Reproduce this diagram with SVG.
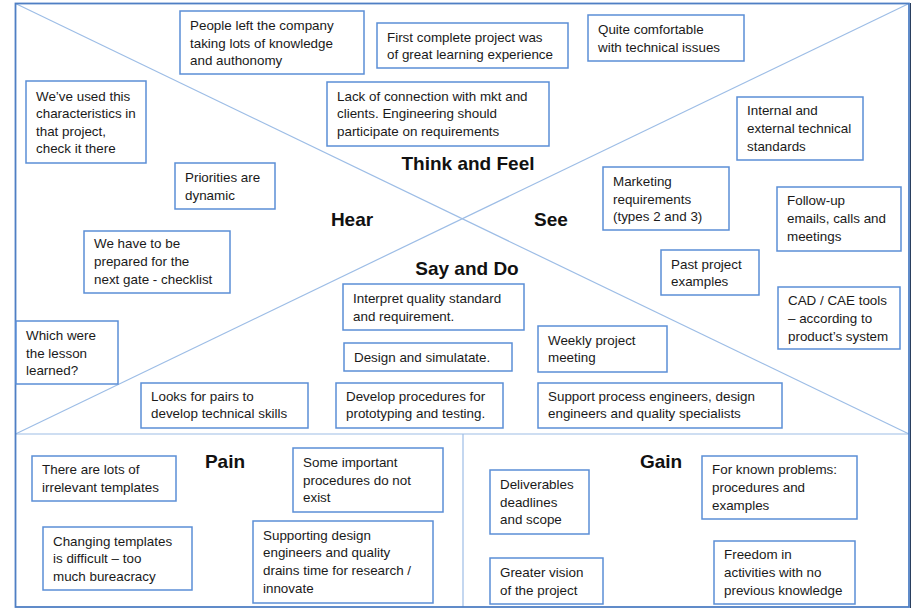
<svg xmlns="http://www.w3.org/2000/svg" width="912" height="608" viewBox="0 0 912 608">
<style>
.box{fill:#ffffff;stroke:#5b8ed6;stroke-width:1.5}
.t{font-family:"Liberation Sans",Arial,sans-serif;font-size:13.4px;fill:#1a1a1a}
.h{font-family:"Liberation Sans",Arial,sans-serif;font-size:19px;font-weight:bold;fill:#111111;text-anchor:middle}
.ln{stroke:#9dbde6;stroke-width:1.2;fill:none}
</style>
<rect x="0" y="0" width="912" height="608" fill="#ffffff"/>
<g id="connectors">
<line class="ln" x1="15.5" y1="3.5" x2="909" y2="434"/>
<line class="ln" x1="909" y1="3.5" x2="15.5" y2="434"/>
<line class="ln" x1="15.5" y1="434" x2="909" y2="434"/>
<line class="ln" x1="463" y1="434" x2="463" y2="607"/>
</g>
<rect id="frame" x="15.5" y="3.5" width="893.5" height="603.5" fill="none" stroke="#4f7fc4" stroke-width="1.8"/>
<line x1="910.5" y1="3" x2="910.5" y2="608" stroke="#2a3f5f" stroke-width="1"/>
<g id="labels">
<text class="h" x="468" y="170">Think and Feel</text>
<text class="h" x="352" y="226">Hear</text>
<text class="h" x="551" y="226">See</text>
<text class="h" x="467" y="275">Say and Do</text>
<text class="h" x="225" y="468">Pain</text>
<text class="h" x="661" y="468">Gain</text>
</g>
<g id="n1"><rect class="box" x="180" y="11" width="184" height="63"/><text class="t" x="190" y="30">People left the company</text><text class="t" x="190" y="48">taking lots of knowledge</text><text class="t" x="190" y="65">and authonomy</text></g>
<g id="n2"><rect class="box" x="377" y="23" width="191" height="45"/><text class="t" x="387" y="42">First complete project was</text><text class="t" x="387" y="59">of great learning experience</text></g>
<g id="n3"><rect class="box" x="588" y="15" width="156" height="46"/><text class="t" x="598" y="34">Quite comfortable</text><text class="t" x="598" y="52">with technical issues</text></g>
<g id="n4"><rect class="box" x="26" y="81" width="120" height="82"/><text class="t" x="36" y="101">We’ve used this</text><text class="t" x="36" y="118">characteristics in</text><text class="t" x="36" y="136">that project,</text><text class="t" x="36" y="153">check it there</text></g>
<g id="n5"><rect class="box" x="327" y="82" width="222" height="64"/><text class="t" x="337" y="101">Lack of connection with mkt and</text><text class="t" x="337" y="118">clients. Engineering should</text><text class="t" x="337" y="136">participate on requirements</text></g>
<g id="n6"><rect class="box" x="737" y="97" width="126" height="63"/><text class="t" x="747" y="115">Internal and</text><text class="t" x="747" y="133">external technical</text><text class="t" x="747" y="151">standards</text></g>
<g id="n7"><rect class="box" x="175" y="163" width="100" height="46"/><text class="t" x="185" y="182">Priorities are</text><text class="t" x="185" y="200">dynamic</text></g>
<g id="n8"><rect class="box" x="603" y="167" width="126" height="63"/><text class="t" x="613" y="186">Marketing</text><text class="t" x="613" y="204">requirements</text><text class="t" x="613" y="221">(types 2 and 3)</text></g>
<g id="n9"><rect class="box" x="777" y="187" width="124" height="64"/><text class="t" x="787" y="205">Follow-up</text><text class="t" x="787" y="223">emails, calls and</text><text class="t" x="787" y="241">meetings</text></g>
<g id="n10"><rect class="box" x="84" y="231" width="146" height="62"/><text class="t" x="94" y="248">We have to be</text><text class="t" x="94" y="266">prepared for the</text><text class="t" x="94" y="284">next gate - checklist</text></g>
<g id="n11"><rect class="box" x="661" y="250" width="98" height="45"/><text class="t" x="671" y="269">Past project</text><text class="t" x="671" y="286">examples</text></g>
<g id="n12"><rect class="box" x="343" y="284" width="181" height="46"/><text class="t" x="353" y="303">Interpret quality standard</text><text class="t" x="353" y="321">and requirement.</text></g>
<g id="n13"><rect class="box" x="778" y="287" width="122" height="62"/><text class="t" x="788" y="305">CAD / CAE tools</text><text class="t" x="788" y="323">– according to</text><text class="t" x="788" y="341">product’s system</text></g>
<g id="n14"><rect class="box" x="16" y="321" width="102" height="63"/><text class="t" x="26" y="340">Which were</text><text class="t" x="26" y="358">the lesson</text><text class="t" x="26" y="375">learned?</text></g>
<g id="n15"><rect class="box" x="344" y="343" width="168" height="28"/><text class="t" x="354" y="362">Design and simulatate.</text></g>
<g id="n16"><rect class="box" x="538" y="326" width="129" height="46"/><text class="t" x="548" y="345">Weekly project</text><text class="t" x="548" y="362">meeting</text></g>
<g id="n17"><rect class="box" x="141" y="383" width="167" height="45"/><text class="t" x="151" y="401">Looks for pairs to</text><text class="t" x="151" y="418">develop technical skills</text></g>
<g id="n18"><rect class="box" x="336" y="383" width="167" height="45"/><text class="t" x="346" y="401">Develop procedures for</text><text class="t" x="346" y="418">prototyping and testing.</text></g>
<g id="n19"><rect class="box" x="538" y="383" width="244" height="45"/><text class="t" x="548" y="401">Support process engineers, design</text><text class="t" x="548" y="418">engineers and quality specialists</text></g>
<g id="n20"><rect class="box" x="32" y="456" width="144" height="45"/><text class="t" x="42" y="474">There are lots of</text><text class="t" x="42" y="492">irrelevant templates</text></g>
<g id="n21"><rect class="box" x="293" y="448" width="150" height="64"/><text class="t" x="303" y="467">Some important</text><text class="t" x="303" y="485">procedures do not</text><text class="t" x="303" y="502">exist</text></g>
<g id="n22"><rect class="box" x="43" y="527" width="149" height="63"/><text class="t" x="53" y="546">Changing templates</text><text class="t" x="53" y="563">is difficult – too</text><text class="t" x="53" y="581">much bureacracy</text></g>
<g id="n23"><rect class="box" x="253" y="521" width="180" height="82"/><text class="t" x="263" y="540">Supporting design</text><text class="t" x="263" y="557">engineers and quality</text><text class="t" x="263" y="575">drains time for research /</text><text class="t" x="263" y="593">innovate</text></g>
<g id="n24"><rect class="box" x="490" y="470" width="99" height="64"/><text class="t" x="500" y="489">Deliverables</text><text class="t" x="500" y="507">deadlines</text><text class="t" x="500" y="524">and scope</text></g>
<g id="n25"><rect class="box" x="702" y="456" width="155" height="63"/><text class="t" x="712" y="474">For known problems:</text><text class="t" x="712" y="492">procedures and</text><text class="t" x="712" y="510">examples</text></g>
<g id="n26"><rect class="box" x="490" y="558" width="113" height="46"/><text class="t" x="500" y="577">Greater vision</text><text class="t" x="500" y="595">of the project</text></g>
<g id="n27"><rect class="box" x="714" y="541" width="141" height="63"/><text class="t" x="724" y="559">Freedom in</text><text class="t" x="724" y="577">activities with no</text><text class="t" x="724" y="595">previous knowledge</text></g>
</svg>
